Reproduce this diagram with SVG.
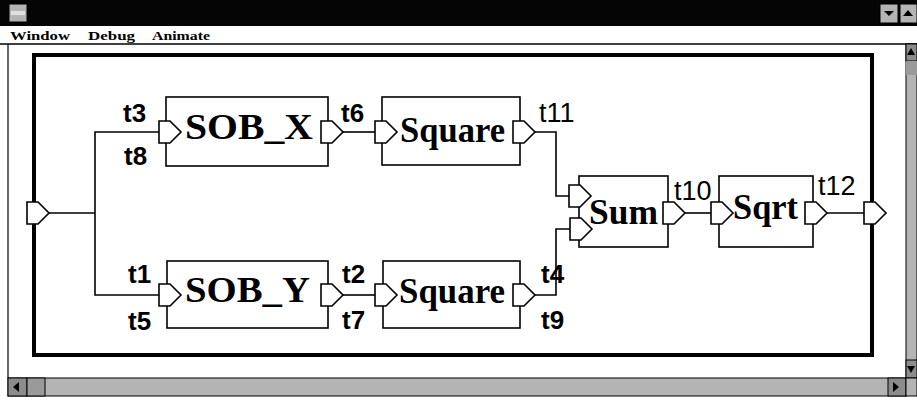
<svg xmlns="http://www.w3.org/2000/svg" width="917" height="402" viewBox="0 0 917 402">
<style>
.box{fill:#fff;stroke:#000;stroke-width:1.6}
.port{fill:#fff;stroke:#000;stroke-width:1.6;stroke-linejoin:miter}
.wire{fill:none;stroke:#000;stroke-width:1.6}
.node{font-family:"Liberation Serif","Times New Roman",serif;font-weight:bold;font-size:36px;fill:#000}
.lb{font-family:"Liberation Sans",Arial,sans-serif;font-weight:bold;font-size:26px;fill:#000}
.lr{font-family:"Liberation Sans",Arial,sans-serif;font-size:27px;fill:#000}
.menu{font-family:"Liberation Serif","Times New Roman",serif;font-weight:bold;font-size:13px;fill:#000}
.gray{fill:#b4b4b4;stroke:#000;stroke-width:1}
.dgray{fill:#8c8c8c;stroke:#000;stroke-width:1}
</style>
<defs>
<path id="p" d="M0,0 H11 L22,11 L11,22 H0 Z"/>
</defs>
<rect width="917" height="402" fill="#fff"/>
<g id="chrome">
<rect x="0" y="0" width="917" height="26" fill="#050505"/>
<rect x="9" y="4" width="18" height="18" class="gray"/>
<rect x="11" y="11" width="14" height="4" fill="#e0e0e0"/>
<rect x="880" y="4" width="18" height="19" class="gray"/>
<path d="M884,11 H894 L889,16 Z" fill="#000"/>
<rect x="900" y="4" width="17" height="19" class="gray"/>
<path d="M903,16 H913 L908,10 Z" fill="#000"/>
<text class="menu" x="10" y="40" textLength="60" lengthAdjust="spacingAndGlyphs">Window</text>
<text class="menu" x="88" y="40" textLength="47" lengthAdjust="spacingAndGlyphs">Debug</text>
<text class="menu" x="152" y="40" textLength="58" lengthAdjust="spacingAndGlyphs">Animate</text>
<line x1="0" y1="44" x2="917" y2="44" stroke="#000" stroke-width="1.5"/>
<line x1="8" y1="44" x2="8" y2="378" stroke="#000" stroke-width="1.2"/>
<rect x="906" y="44" width="11" height="334" class="gray"/>
<rect x="906" y="44" width="11" height="17" class="dgray"/>
<rect x="906" y="61" width="11" height="14" fill="#9a9a9a"/>
<rect x="906" y="360" width="11" height="18" class="dgray"/>
<rect x="8" y="378" width="898" height="18" class="gray"/>
<rect x="8" y="378" width="19" height="18" class="dgray"/>
<rect x="27" y="378" width="18" height="18" fill="#9a9a9a" stroke="#000" stroke-width="1"/>
<rect x="888" y="378" width="18" height="18" class="dgray"/>
<rect x="906" y="378" width="11" height="18" class="gray"/>
<path d="M13,387 L19,382 V392 Z" fill="#000"/>
<path d="M899,387 L893,382 V392 Z" fill="#000"/>
<path d="M911,48 L915,55 H907 Z" fill="#000"/>
<path d="M911,373 L915,366 H907 Z" fill="#000"/>
<rect x="34" y="55" width="838" height="300" fill="none" stroke="#000" stroke-width="4"/>
</g>
<g id="connectors">
<polyline class="wire" points="49,213 95,213"/>
<polyline class="wire" points="159,132 95,132 95,295 159,295"/>
<polyline class="wire" points="343,132 375,132"/>
<polyline class="wire" points="535,132 556,132 556,196 569,196"/>
<polyline class="wire" points="343,295 375,295"/>
<polyline class="wire" points="535,295 556,295 556,229 570,229"/>
<polyline class="wire" points="685,213 711,213"/>
<polyline class="wire" points="827,213 864,213"/>
</g>
<g id="input"><use href="#p" class="port" x="27" y="202"/></g>
<g id="sobx">
<rect class="box" x="166" y="97" width="162" height="69"/>
<use href="#p" class="port" x="159" y="121"/>
<use href="#p" class="port" x="321" y="121"/>
<text class="node" x="185" y="139" textLength="128" lengthAdjust="spacingAndGlyphs">SOB_X</text>
<text class="lb" x="123" y="122">t3</text>
<text class="lb" x="124" y="165">t8</text>
<text class="lb" x="341" y="122">t6</text>
</g>
<g id="square1">
<rect class="box" x="382" y="97" width="138" height="68"/>
<use href="#p" class="port" x="375" y="121"/>
<use href="#p" class="port" x="513" y="121"/>
<text class="node" x="400" y="142" textLength="105" lengthAdjust="spacingAndGlyphs">Square</text>
<text class="lr" x="539" y="122">t11</text>
</g>
<g id="soby">
<rect class="box" x="167" y="261" width="161" height="67"/>
<use href="#p" class="port" x="159" y="284"/>
<use href="#p" class="port" x="321" y="284"/>
<text class="node" x="185" y="302" textLength="125" lengthAdjust="spacingAndGlyphs">SOB_Y</text>
<text class="lb" x="128" y="283">t1</text>
<text class="lb" x="128" y="330">t5</text>
<text class="lb" x="342" y="283">t2</text>
<text class="lb" x="342" y="329">t7</text>
</g>
<g id="square2">
<rect class="box" x="383" y="261" width="137" height="67"/>
<use href="#p" class="port" x="375" y="284"/>
<use href="#p" class="port" x="513" y="284"/>
<text class="node" x="399" y="303" textLength="106" lengthAdjust="spacingAndGlyphs">Square</text>
<text class="lb" x="541" y="283">t4</text>
<text class="lb" x="541" y="329">t9</text>
</g>
<g id="sum">
<rect class="box" x="579" y="176" width="89" height="71"/>
<use href="#p" class="port" x="569" y="185"/>
<use href="#p" class="port" x="570" y="218"/>
<use href="#p" class="port" x="663" y="202"/>
<text class="node" x="589" y="224" textLength="69" lengthAdjust="spacingAndGlyphs">Sum</text>
<text class="lr" x="674" y="200">t10</text>
</g>
<g id="sqrt">
<rect class="box" x="719" y="176" width="94" height="71"/>
<use href="#p" class="port" x="711" y="202"/>
<use href="#p" class="port" x="805" y="202"/>
<text class="node" x="733" y="219" textLength="65" lengthAdjust="spacingAndGlyphs">Sqrt</text>
<text class="lr" x="818" y="195">t12</text>
</g>
<g id="output"><use href="#p" class="port" x="864" y="202"/></g>
</svg>
